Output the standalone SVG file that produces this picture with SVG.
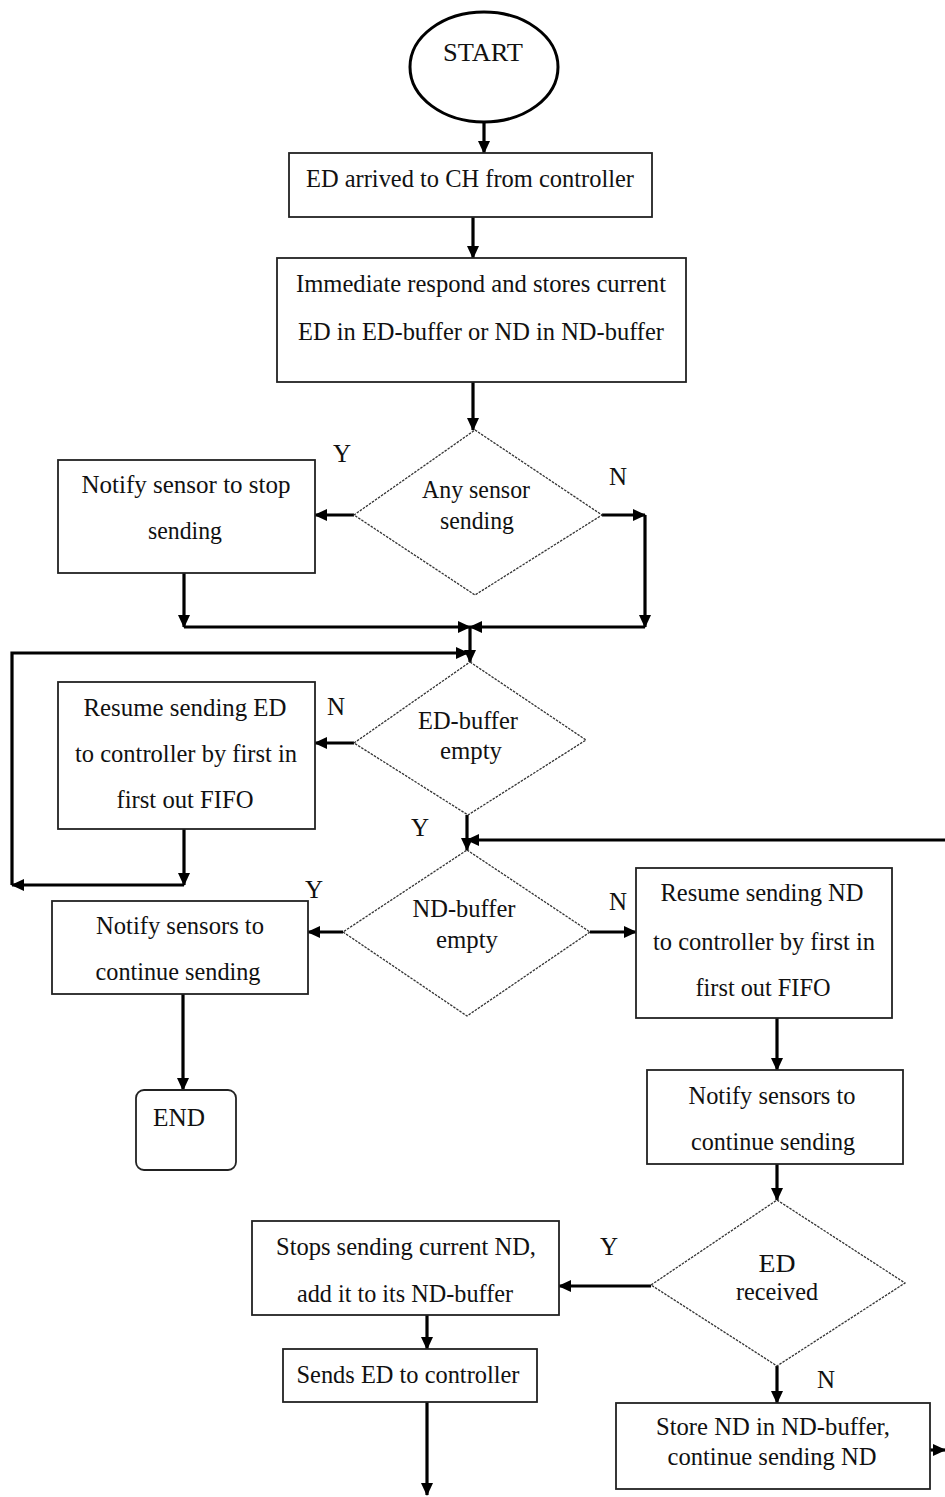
<svg xmlns="http://www.w3.org/2000/svg" width="945" height="1497" viewBox="0 0 945 1497" font-family="'Liberation Serif', 'DejaVu Serif', serif">
  <style>
    text { font-family: 'Liberation Serif', 'DejaVu Serif', serif; font-size: 25px; fill: #111; text-anchor: middle; }
    .lbl { font-size: 25px; }
    .box { fill: #fff; stroke: #222; stroke-width: 1.8; }
    .dia { fill: #fff; stroke: #333; stroke-width: 1.3; stroke-dasharray: 2.5 1.2; }
    .conn { fill: none; stroke: #000; stroke-width: 3.2; }
  </style>
  <defs>
    <marker id="ah" markerUnits="userSpaceOnUse" markerWidth="14" markerHeight="14" viewBox="0 0 14 14" refX="12" refY="7" orient="auto">
      <path d="M0,1 L13,7 L0,13 Z" fill="#000"/>
    </marker>
  </defs>

  <rect width="945" height="1497" fill="#fff"/>

  <!-- connectors -->
  <g id="connectors" class="conn" marker-end="url(#ah)">
    <path d="M484,122 V153"/>
    <path d="M473,217 V258"/>
    <path d="M473,382 V430"/>
    <path d="M354,515 H315"/>
    <path d="M602,515 H645"/>
    <path d="M645,515 V627"/>
    <path d="M184,573 V627"/>
    <path d="M184,627 H470"/>
    <path d="M645,627 H470"/>
    <path d="M470,627 V662"/>
    <path d="M12,885 V653 H468"/>
    <path d="M354,743 H315"/>
    <path d="M184,829 V885"/>
    <path d="M184,885 H12"/>
    <path d="M467,815 V850"/>
    <path d="M945,840 H467"/>
    <path d="M343,932 H308"/>
    <path d="M590,932 H636"/>
    <path d="M183,994 V1090"/>
    <path d="M777,1018 V1070"/>
    <path d="M777,1164 V1200"/>
    <path d="M651,1286 H559"/>
    <path d="M427,1315 V1349"/>
    <path d="M427,1402 V1495"/>
    <path d="M777,1366 V1403"/>
    <path d="M930,1450 H945"/>
  </g>

  <!-- branch labels -->
  <g id="labels">
    <text class="lbl" x="342" y="462">Y</text>
    <text class="lbl" x="618" y="485">N</text>
    <text class="lbl" x="336" y="715">N</text>
    <text class="lbl" x="420" y="836">Y</text>
    <text class="lbl" x="314" y="898">Y</text>
    <text class="lbl" x="618" y="910">N</text>
    <text class="lbl" x="609" y="1255">Y</text>
    <text class="lbl" x="826" y="1388">N</text>
  </g>

  <g id="start">
    <ellipse cx="484" cy="67" rx="74" ry="55" fill="#fff" stroke="#000" stroke-width="3"/>
    <text x="483" y="61" font-size="29" textLength="80" lengthAdjust="spacingAndGlyphs">START</text>
  </g>

  <g id="ed-arrived">
    <rect class="box" x="289" y="153" width="363" height="64"/>
    <text x="470" y="187" textLength="328" lengthAdjust="spacingAndGlyphs">ED arrived to CH from controller</text>
  </g>

  <g id="store-current">
    <rect class="box" x="277" y="258" width="409" height="124"/>
    <text x="481" y="292" textLength="370" lengthAdjust="spacingAndGlyphs">Immediate respond and stores current</text>
    <text x="481" y="340" textLength="366" lengthAdjust="spacingAndGlyphs">ED in ED-buffer or ND in ND-buffer</text>
  </g>

  <g id="any-sensor">
    <polygon class="dia" points="475,430 602,515 475,595 354,515"/>
    <text x="476" y="498" textLength="108" lengthAdjust="spacingAndGlyphs">Any sensor</text>
    <text x="477" y="529" textLength="74" lengthAdjust="spacingAndGlyphs">sending</text>
  </g>

  <g id="notify-stop">
    <rect class="box" x="58" y="460" width="257" height="113"/>
    <text x="186" y="493" textLength="209" lengthAdjust="spacingAndGlyphs">Notify sensor to stop</text>
    <text x="185" y="539" textLength="74" lengthAdjust="spacingAndGlyphs">sending</text>
  </g>

  <g id="ed-buffer-empty">
    <polygon class="dia" points="470,662 586,740 468,815 354,743"/>
    <text x="468" y="729" textLength="100" lengthAdjust="spacingAndGlyphs">ED-buffer</text>
    <text x="471" y="759" textLength="62" lengthAdjust="spacingAndGlyphs">empty</text>
  </g>

  <g id="resume-ed">
    <rect class="box" x="58" y="682" width="257" height="147"/>
    <text x="185" y="716" textLength="203" lengthAdjust="spacingAndGlyphs">Resume sending ED</text>
    <text x="186" y="762" textLength="222" lengthAdjust="spacingAndGlyphs">to controller by first in</text>
    <text x="185" y="808" textLength="137" lengthAdjust="spacingAndGlyphs">first out FIFO</text>
  </g>

  <g id="nd-buffer-empty">
    <polygon class="dia" points="467,850 590,932 467,1016 343,932"/>
    <text x="464" y="917" textLength="103" lengthAdjust="spacingAndGlyphs">ND-buffer</text>
    <text x="467" y="948" textLength="62" lengthAdjust="spacingAndGlyphs">empty</text>
  </g>

  <g id="notify-continue-left">
    <rect class="box" x="52" y="901" width="256" height="93"/>
    <text x="180" y="934" textLength="168" lengthAdjust="spacingAndGlyphs">Notify sensors to</text>
    <text x="178" y="980" textLength="165" lengthAdjust="spacingAndGlyphs">continue sending</text>
  </g>

  <g id="end">
    <rect x="136" y="1090" width="100" height="80" rx="8" fill="#fff" stroke="#222" stroke-width="1.8"/>
    <text x="179" y="1126" textLength="52" lengthAdjust="spacingAndGlyphs">END</text>
  </g>

  <g id="resume-nd">
    <rect class="box" x="636" y="868" width="256" height="150"/>
    <text x="762" y="901" textLength="203" lengthAdjust="spacingAndGlyphs">Resume sending ND</text>
    <text x="764" y="950" textLength="222" lengthAdjust="spacingAndGlyphs">to controller by first in</text>
    <text x="763" y="996" textLength="135" lengthAdjust="spacingAndGlyphs">first out FIFO</text>
  </g>

  <g id="notify-continue-right">
    <rect class="box" x="647" y="1070" width="256" height="94"/>
    <text x="772" y="1104" textLength="167" lengthAdjust="spacingAndGlyphs">Notify sensors to</text>
    <text x="773" y="1150" textLength="164" lengthAdjust="spacingAndGlyphs">continue sending</text>
  </g>

  <g id="ed-received">
    <polygon class="dia" points="777,1200 905,1283 777,1366 651,1285"/>
    <text x="777" y="1272" textLength="37" lengthAdjust="spacingAndGlyphs">ED</text>
    <text x="777" y="1300" textLength="82" lengthAdjust="spacingAndGlyphs">received</text>
  </g>

  <g id="stop-current-nd">
    <rect class="box" x="252" y="1221" width="307" height="94"/>
    <text x="406" y="1255" textLength="260" lengthAdjust="spacingAndGlyphs">Stops sending current ND,</text>
    <text x="405" y="1302" textLength="216" lengthAdjust="spacingAndGlyphs">add it to its ND-buffer</text>
  </g>

  <g id="send-ed">
    <rect class="box" x="283" y="1349" width="254" height="53"/>
    <text x="408" y="1383" textLength="223" lengthAdjust="spacingAndGlyphs">Sends ED to controller</text>
  </g>

  <g id="store-nd">
    <rect class="box" x="616" y="1403" width="314" height="86"/>
    <text x="773" y="1435" textLength="234" lengthAdjust="spacingAndGlyphs">Store ND in ND-buffer,</text>
    <text x="772" y="1465" textLength="209" lengthAdjust="spacingAndGlyphs">continue sending ND</text>
  </g>
</svg>
